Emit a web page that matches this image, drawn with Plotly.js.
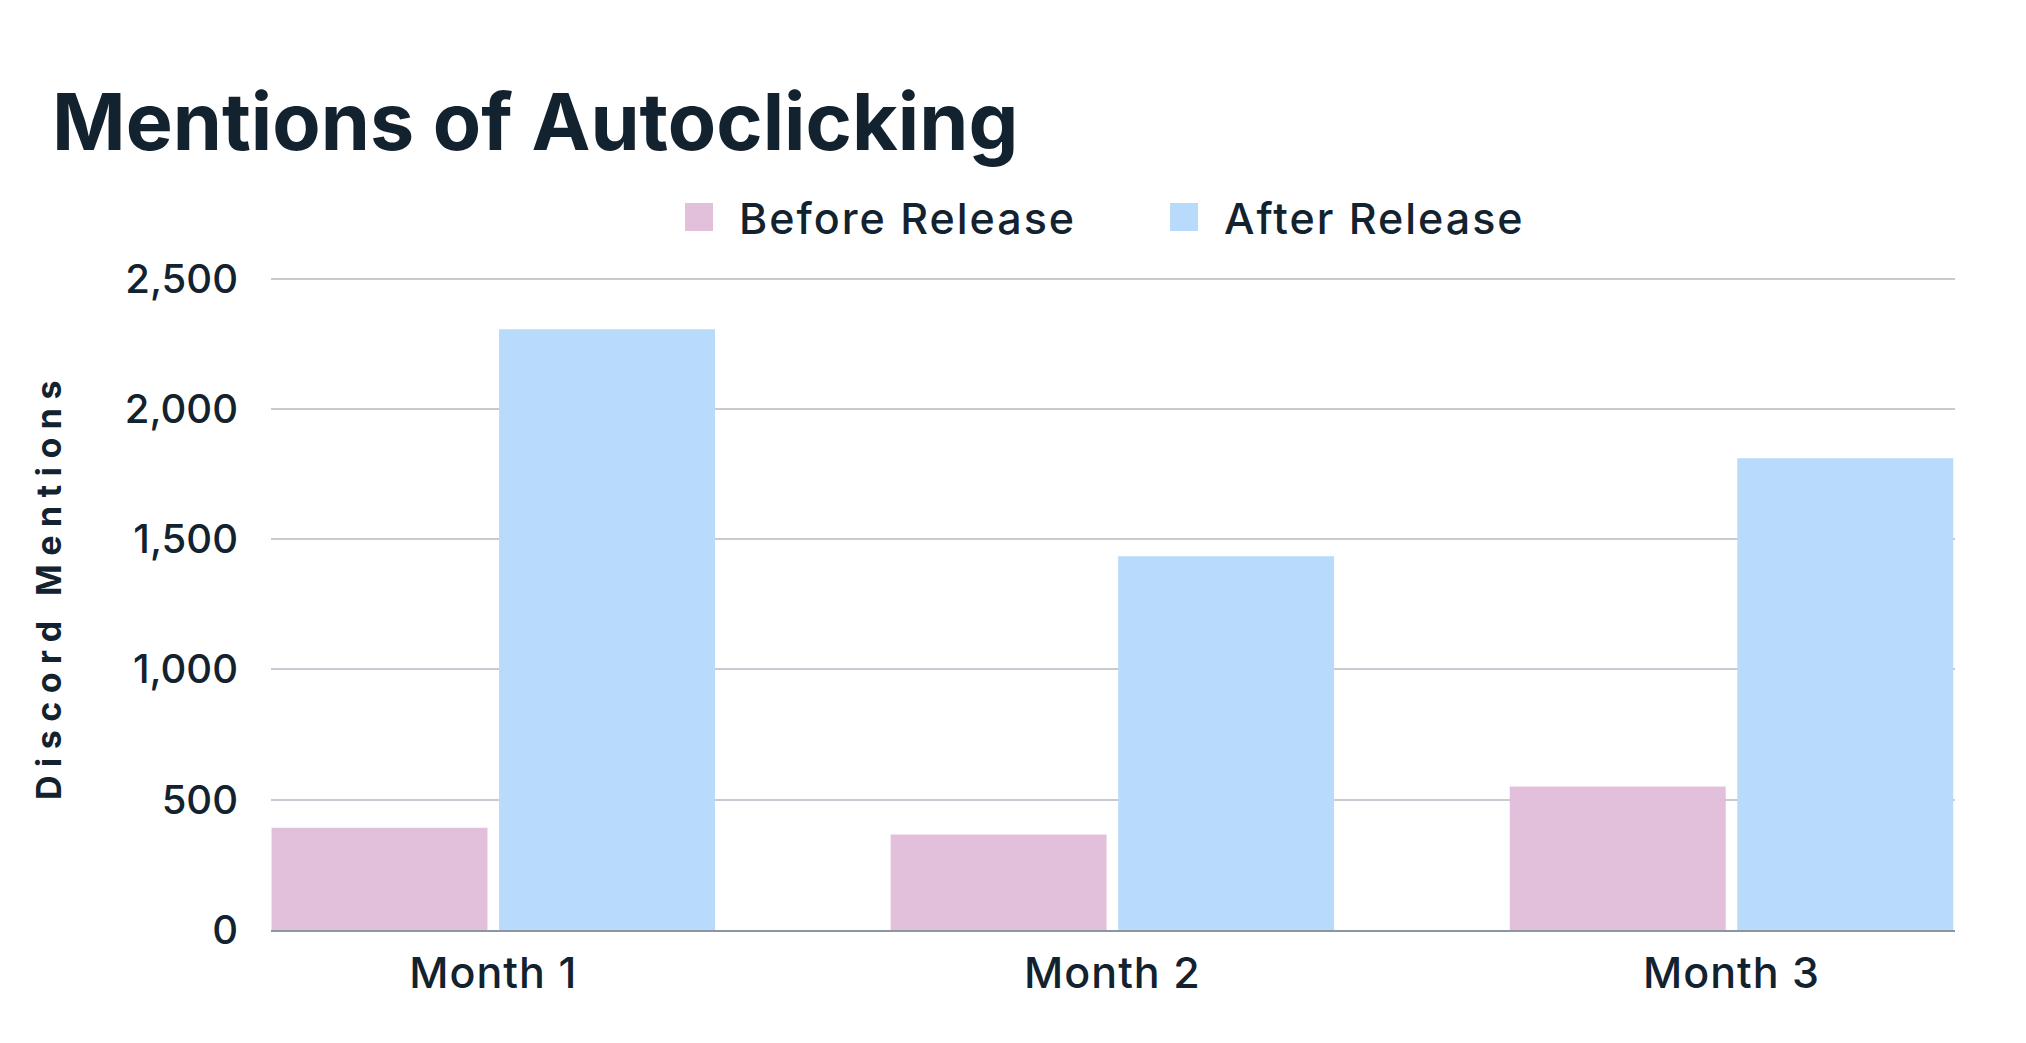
<!DOCTYPE html>
<html>
<head>
<meta charset="utf-8">
<script src="https://cdn.plot.ly/plotly-3.0.1.min.js"></script>
<style>
  html, body { margin: 0; padding: 0; background: #ffffff; }
  #chart { width: 2026px; height: 1043px; }
  .annotation-text { letter-spacing: 8.5px; }
  .legendtext { letter-spacing: 2px; }
  .xtick text { letter-spacing: 1px; }
  .legendpoints path { d: path("M14,14H-14V-14H14Z"); }
</style>
</head>
<body>
<div id="chart"></div>
<script>
const months = ["Month 1", "Month 2", "Month 3"];
const beforeRelease = [392, 367, 551];
const afterRelease = [2306, 1434, 1811];
const seriesNames = ["Before Release", "After Release"];
const yTickVals = [0, 500, 1000, 1500, 2000, 2500];
const yTickText = ["0", "500", "1,000", "1,500", "2,000", "2,500"];
const yAxisTitle = "Discord Mentions";

const textColor = "#13222f";
const fontFamily = "Inter, 'Open Sans', sans-serif";

const traces = [
  {
    type: "bar", name: seriesNames[0], x: months, y: beforeRelease,
    marker: { color: "#e2bfda", line: { width: 0 } },
    hoverinfo: "x+y+name"
  },
  {
    type: "bar", name: seriesNames[1], x: months, y: afterRelease,
    marker: { color: "#b8dafb", line: { width: 0 } },
    hoverinfo: "x+y+name"
  }
];

const layout = {
  width: 2026, height: 1043,
  paper_bgcolor: "#ffffff", plot_bgcolor: "#ffffff",
  margin: { l: 271, r: 71, t: 276, b: 113, pad: 0 },
  font: { family: fontFamily, color: textColor, size: 40 },
  title: {
    text: "Mentions of Autoclicking",
    font: { family: fontFamily, size: 79, weight: 700, color: textColor },
    x: 0.0257, xref: "container", xanchor: "left",
    y: 0.883, yref: "container", yanchor: "middle"
  },
  barmode: "group",
  bargap: 0.265,
  bargroupgap: 0.051,
  showlegend: true,
  legend: {
    orientation: "h",
    x: 0.3253, xref: "container", xanchor: "left",
    y: 0.792, yref: "container", yanchor: "middle",
    font: { family: fontFamily, size: 43, weight: 500, color: textColor },
    itemwidth: 70,
    entrywidth: 400,
    entrywidthmode: "pixels",
    tracegroupgap: 0,
    bgcolor: "rgba(0,0,0,0)"
  },
  annotations: [
    {
      text: yAxisTitle, textangle: -90, showarrow: false,
      xref: "paper", x: -0.1318, xanchor: "center",
      yref: "paper", y: 0.526, yanchor: "middle",
      font: { family: fontFamily, size: 34, weight: 700, color: textColor }
    }
  ],
  xaxis: {
    type: "category",
    range: [-0.359, 2.361],
    showgrid: false,
    showline: true, linecolor: "#8a97a3", linewidth: 2,
    ticks: "",
    tickfont: { family: fontFamily, size: 43, weight: 500, color: textColor },
    ticklabelstandoff: 4,
    fixedrange: true
  },
  yaxis: {
    range: [0, 2510],
    tickvals: yTickVals, ticktext: yTickText,
    showgrid: true, gridcolor: "#c6cbd1", gridwidth: 2,
    zeroline: false,
    showline: false,
    ticks: "",
    tickfont: { family: fontFamily, size: 40, weight: 500, color: textColor },
    ticklabelstandoff: 32,
    automargin: false,
    fixedrange: true
  }
};

Plotly.newPlot("chart", traces, layout, { displayModeBar: false, staticPlot: true });
</script>
</body>
</html>
